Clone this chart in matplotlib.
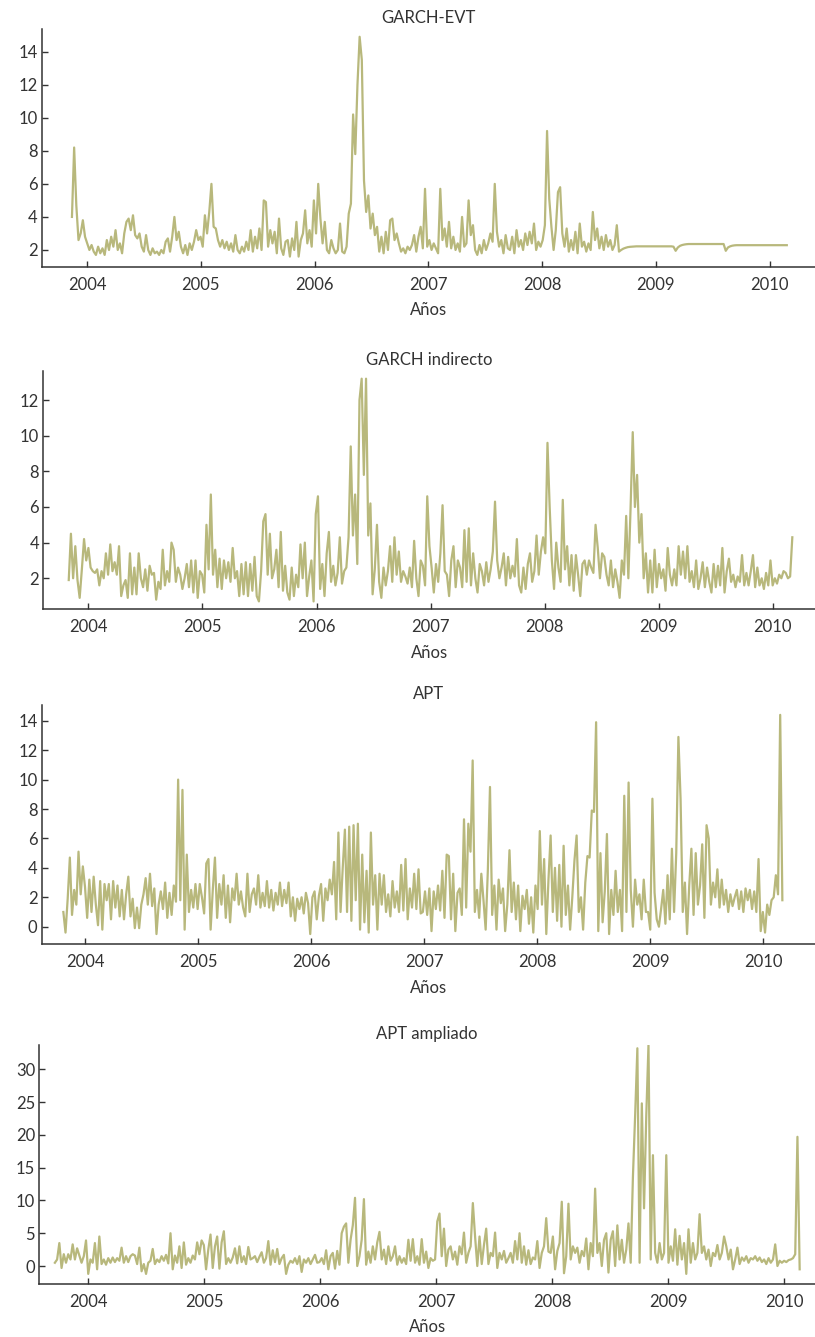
import matplotlib.pyplot as plt
import numpy as np

plt.rcParams['font.family'] = ['Lato', 'DejaVu Sans']
plt.rcParams.update({'font.size': 12})

LINE = '#b8b87c'
INK = '#333333'

# weekly values, each list starts where the year starts
# (the *_2003 lists hold the weeks before 1 Jan 2004)

# GARCH-EVT
evt_2003 = [4.0, 8.2, 4.7, 2.6, 3.0, 3.8, 2.8]
evt_2004 = [2.4, 2.0, 2.3, 1.9, 1.7, 2.2, 1.8, 2.1, 1.7, 2.6,
            2.0, 2.8, 2.2, 3.2, 2.0, 2.4, 1.8, 3.0, 3.7, 3.9,
            3.2, 4.1, 2.9, 2.7, 3.0, 2.2, 1.9, 2.9, 2.0, 1.7,
            2.1, 1.8, 1.9, 1.7, 2.0, 1.8, 2.5, 2.7, 1.9, 2.8,
            4.0, 2.6, 3.1, 2.2, 1.8, 2.3, 1.7, 2.4, 2.0, 2.5, 3.2, 2.6]
evt_2005 = [2.8, 2.2, 4.1, 3.0, 4.3, 6.0, 3.4, 3.3, 2.6, 2.2,
            2.6, 2.1, 2.5, 2.0, 2.4, 1.9, 2.9, 2.0, 1.8, 2.2,
            1.9, 2.5, 2.0, 3.2, 1.9, 2.8, 2.1, 3.3, 2.0, 5.0,
            4.9, 2.2, 3.2, 2.4, 3.1, 1.8, 3.9, 2.1, 1.7, 2.5,
            2.6, 1.6, 2.7, 2.0, 3.7, 1.6, 2.6, 3.0, 4.4, 2.4, 3.2, 2.2]
evt_2006 = [5.0, 3.0, 6.0, 3.9, 2.4, 3.7, 2.0, 1.8, 2.6, 2.1,
            1.8, 2.0, 3.6, 1.9, 1.8, 2.2, 4.2, 4.8, 10.2, 7.8,
            12.0, 14.9, 13.5, 6.2, 4.3, 5.3, 3.3, 4.2, 2.9, 3.4,
            1.9, 2.8, 1.8, 3.1, 2.0, 3.8, 3.9, 2.6, 3.0, 2.4,
            1.9, 2.1, 1.8, 2.2, 2.0, 2.3, 2.9, 1.9, 2.8, 3.4, 2.1, 5.7]
evt_2007 = [2.2, 2.6, 2.0, 2.4, 2.1, 1.8, 5.7, 2.6, 3.3, 2.2,
            3.7, 2.1, 2.8, 2.0, 2.4, 1.9, 4.0, 2.2, 2.4, 5.0,
            2.9, 3.5, 2.0, 1.7, 2.3, 1.8, 2.6, 2.0, 2.4, 3.0,
            2.5, 6.0, 3.1, 2.2, 2.6, 1.8, 2.9, 2.1, 2.0, 2.8,
            1.8, 3.2, 2.2, 2.6, 2.0, 3.0, 2.3, 3.1, 2.4, 3.6, 2.0, 2.5]
evt_2008 = [2.2, 2.6, 3.5, 9.2, 5.1, 3.4, 2.0, 3.2, 5.5, 5.8,
            3.0, 2.2, 3.3, 1.9, 2.6, 2.0, 3.1, 1.8, 3.6, 2.2,
            2.5, 1.9, 2.4, 2.0, 4.3, 2.6, 3.3, 2.1, 2.8, 2.0,
            2.9, 2.2, 2.6, 2.0, 2.3, 3.5, 1.9,
            2.0, 2.08, 2.13, 2.17, 2.19, 2.2, 2.21, 2.22, 2.22,
            2.22, 2.22, 2.22, 2.22, 2.22, 2.22]
evt_2009 = [2.22, 2.22, 2.22, 2.22, 2.22, 2.22, 2.22, 2.22, 2.22, 2.2,
            1.95, 2.15, 2.25, 2.3, 2.33, 2.35, 2.36, 2.36, 2.36, 2.36,
            2.36, 2.36, 2.36, 2.36, 2.36, 2.36, 2.36, 2.36, 2.36, 2.36,
            2.36, 2.36, 2.36, 1.95, 2.15, 2.22, 2.26, 2.28, 2.29, 2.29,
            2.29, 2.29, 2.29, 2.29, 2.29, 2.29, 2.29, 2.29, 2.29, 2.29, 2.29, 2.29]
evt_2010 = [2.29, 2.29, 2.29, 2.29, 2.29, 2.29, 2.29, 2.29, 2.29, 2.29]

# GARCH indirecto
ind_2003 = [1.9, 4.5, 2.0, 3.8, 1.9, 0.9, 2.5, 4.2, 3.0]
ind_2004 = [3.7, 2.6, 2.4, 2.3, 2.5, 1.6, 2.4, 2.0, 3.4, 2.2,
            3.9, 2.4, 2.9, 2.2, 3.8, 1.0, 1.6, 1.9, 0.9, 3.4,
            1.1, 2.6, 1.1, 3.4, 2.0, 1.5, 2.5, 1.3, 2.7, 2.2,
            2.3, 0.8, 1.8, 1.4, 3.6, 1.6, 2.4, 1.8, 4.0, 3.6,
            1.8, 2.6, 2.2, 1.4, 2.0, 2.8, 1.5, 3.0, 1.2, 3.0, 0.9, 2.4]
ind_2005 = [2.2, 1.2, 5.0, 2.5, 6.7, 2.2, 3.6, 1.5, 3.1, 1.4,
            3.0, 2.0, 2.9, 1.8, 3.7, 2.0, 2.4, 1.0, 2.8, 1.1,
            2.9, 1.0, 2.8, 1.3, 3.2, 1.0, 0.7, 2.4, 5.2, 5.6,
            2.2, 4.5, 2.0, 2.5, 3.6, 1.5, 4.6, 1.3, 2.7, 1.2,
            0.8, 2.6, 1.0, 2.2, 1.5, 3.9, 2.0, 4.0, 1.0, 2.1, 3.0, 0.7]
ind_2006 = [5.6, 6.6, 1.4, 2.8, 1.0, 3.4, 4.6, 1.8, 2.7, 1.6,
            2.3, 4.3, 1.7, 2.4, 2.6, 4.3, 9.4, 4.4, 6.7, 2.8,
            12.0, 13.2, 7.8, 13.2, 4.4, 6.2, 1.1, 2.5, 5.0, 1.8,
            0.9, 2.6, 1.6, 2.4, 3.8, 1.8, 4.3, 2.2, 3.5, 1.8,
            2.4, 2.1, 1.7, 2.6, 1.5, 4.1, 2.0, 1.0, 3.0, 2.7, 1.6, 6.6]
ind_2007 = [3.8, 2.6, 1.2, 2.8, 1.8, 3.4, 6.1, 2.4, 2.2, 1.0,
            3.0, 3.8, 1.5, 3.0, 2.6, 1.5, 4.7, 1.8, 4.8, 1.6,
            3.4, 2.0, 1.2, 2.8, 2.4, 1.6, 2.9, 1.8, 2.5, 3.5,
            6.3, 3.0, 2.0, 2.6, 3.4, 1.6, 3.2, 2.0, 2.7, 2.1,
            4.2, 1.6, 1.2, 2.6, 1.4, 2.8, 3.4, 1.8, 2.4, 4.4, 2.2, 3.5]
ind_2008 = [4.3, 3.4, 9.6, 6.0, 3.0, 1.4, 4.0, 2.6, 1.8, 6.4,
            2.5, 3.8, 1.6, 3.3, 1.3, 3.3, 2.2, 1.0, 2.8, 3.0,
            2.2, 3.0, 2.6, 2.3, 5.0, 3.7, 2.0, 3.4, 3.2, 2.2,
            1.6, 3.0, 1.5, 2.5, 1.8, 0.9, 3.0, 2.2, 5.5, 2.0,
            5.9, 10.2, 6.0, 7.8, 4.0, 5.6, 2.0, 3.4, 1.2, 3.0, 1.2, 3.6]
ind_2009 = [1.5, 2.8, 2.0, 2.5, 1.3, 3.7, 2.2, 1.6, 2.5, 1.6,
            3.8, 2.2, 3.5, 2.0, 3.8, 1.8, 2.4, 1.5, 3.0, 1.4,
            2.0, 2.9, 1.5, 2.6, 1.8, 1.2, 2.8, 1.5, 2.7, 1.6,
            3.7, 1.2, 2.4, 3.1, 1.8, 2.2, 1.5, 2.1, 1.8, 3.3,
            1.6, 2.3, 1.6, 2.4, 3.3, 1.5, 2.6, 1.6, 2.0, 1.4, 2.3, 1.6]
ind_2010 = [3.0, 1.6, 2.0, 1.7, 2.2, 2.0, 2.4, 2.3, 2.0, 2.1, 4.3]

# APT
apt_2003 = [1.0, -0.4, 1.9, 4.7, 0.8, 2.5, 1.5, 5.1, 2.2, 4.1]
apt_2004 = [2.7, 0.6, 3.2, 1.0, 3.4, 1.5, 0.1, 3.1, -0.2, 2.9,
            1.8, 2.9, 0.5, 3.1, 1.3, 2.8, 0.7, 2.5, 0.5, 2.2,
            3.4, 0.7, 1.9, -0.1, 1.3, -0.1, 1.5, 2.2, 3.3, 1.5,
            3.6, 1.4, 2.6, -0.5, 1.5, 2.4, 1.2, 3.0, 0.6, 2.3,
            0.8, 2.8, 1.7, 10.0, 1.8, 9.3, -0.2, 4.9, 1.0, 2.5, 1.3, 2.9]
apt_2005 = [1.2, 2.9, 2.0, 0.9, 4.3, 4.6, -0.2, 2.5, 4.7, 0.6,
            2.9, 1.5, 3.5, 0.6, 2.8, 0.3, 2.6, 1.8, 3.6, 1.5,
            2.4, 1.3, 0.7, 3.6, 1.0, 2.2, 2.6, 1.5, 3.5, 1.3,
            2.3, 1.4, 3.1, 1.3, 2.5, 1.1, 2.3, 1.5, 3.0, 1.4,
            2.5, 1.6, 3.0, 0.7, 2.0, 0.4, 1.9, 1.2, 2.0, 0.9, 2.3, 1.6]
apt_2006 = [-0.5, 2.0, 2.4, 0.5, 2.1, 2.9, 0.4, 2.6, 1.8, 3.2,
            2.2, 4.4, 0.5, 6.4, 1.0, 4.0, 6.6, 1.0, 6.8, 0.4,
            6.9, 1.8, 7.0, -0.2, 4.9, 0.3, 3.8, -0.4, 6.4, 1.5,
            3.5, -0.2, 3.6, 1.5, 3.5, 1.0, 2.2, 0.7, 3.1, 1.3,
            2.4, 1.0, 4.2, 1.1, 4.6, 0.5, 2.6, 1.3, 3.6, 1.2, 3.9, 0.9]
apt_2007 = [1.0, 2.4, 0.8, 2.6, -0.3, 2.4, 1.2, 2.8, 1.1, 3.8,
            0.6, 4.9, 4.8, 0.5, 3.6, -0.3, 2.3, 2.6, 0.8, 7.3,
            1.3, 7.0, 5.1, 11.3, 1.0, 2.5, 0.6, 3.6, 1.8, -0.2,
            3.8, 9.5, 0.8, 2.8, -0.2, 3.2, 1.6, 2.6, -0.3, 1.5,
            5.2, 1.0, 3.0, 0.5, 2.8, -0.3, 2.1, 1.2, 2.5, 0.2, 2.0, -0.4]
apt_2008 = [2.8, 1.2, 6.5, 1.5, 4.6, -0.5, 3.2, 6.2, 1.0, 4.0,
            0.4, 4.2, 0.0, 5.5, 0.8, 2.8, -0.2, 2.0, 4.5, 6.2,
            1.0, 2.0, -0.2, 3.0, 4.8, 4.7, 7.9, 7.8, 13.9, -0.3,
            5.0, 0.3, 2.4, 6.3, -0.5, 2.5, 0.8, 3.8, 1.0, 2.5,
            -0.3, 8.9, 1.0, 9.8, 2.5, 0.0, 3.2, 1.5, 2.2, 0.5, 3.2, 1.0]
apt_2009 = [1.0, -0.2, 8.7, 2.3, 0.5, 0.0, 1.2, 2.5, 0.2, 3.5,
            0.5, 5.3, 1.0, 5.0, 12.9, 8.7, 1.0, 3.0, -0.5, 2.8,
            5.3, 0.8, 5.0, 1.5, 2.8, 5.6, 0.6, 6.9, 6.0, 1.5,
            3.0, 2.0, 3.9, 1.3, 3.2, 1.5, 2.5, 1.0, 2.2, 1.4,
            2.0, 2.5, 1.2, 2.4, 1.0, 2.6, 1.8, 2.5, 1.2, 2.4, 1.0, 4.6]
apt_2010 = [-0.3, 1.0, -0.4, 1.5, 0.8, 1.8, 2.0, 3.5, 2.2, 14.4, 1.8]

# APT ampliado
ext_2003 = [0.5, 1.0, 3.5, -0.3, 1.8, 0.5, 1.8, 1.0, 3.3, 1.0, 2.7, 1.6, 0.5, 1.5, 3.9]
ext_2004 = [-1.2, 1.0, 0.5, 3.5, -0.5, 4.5, 0.3, 1.0, 0.2, 1.2,
            0.5, 1.3, 0.6, 1.2, 0.8, 2.8, 0.5, 1.5, 0.6, 1.5,
            1.8, 1.6, 0.3, 2.8, -0.8, 0.3, -1.2, 0.5, 0.8, 2.6,
            0.3, 1.0, 0.6, 1.5, 0.8, 1.7, 0.4, 5.0, -0.5, 1.6,
            0.5, 3.0, -0.3, 3.6, 0.2, 1.2, 0.5, 1.6, 1.0, 3.6, 1.8, 3.9]
ext_2005 = [3.2, -0.5, 2.5, 4.8, -0.3, 3.0, 4.5, -0.4, 3.6, 5.3,
            0.3, 1.2, 0.5, 1.3, 2.7, 0.4, 3.0, 0.6, 1.5, 0.3,
            2.9, 1.0, 1.2, 1.5, 0.6, 1.4, 2.1, 0.5, 1.2, 3.8,
            0.2, 2.4, 0.6, 2.6, 0.3, 1.2, 1.7, -1.2, 0.2, 0.8,
            0.5, 1.2, 0.3, 1.5, -0.9, 1.0, 0.5, 1.2, 0.3, 1.0, 1.7, 0.5]
ext_2006 = [0.6, 1.2, 0.3, 2.4, -0.5, 1.5, 2.0, -0.4, 2.3, 0.2,
            5.0, 6.0, 6.5, 0.5, 4.0, 6.2, 10.4, 0.0, 1.5, 4.0,
            10.2, 0.2, 2.2, 0.5, 3.0, 1.0, 3.6, 5.2, 1.0, 2.5,
            0.3, 3.0, 0.8, 1.5, 3.0, 0.2, 1.5, 0.5, 1.2, 0.3,
            4.0, 0.8, 4.1, 0.5, 1.5, 0.2, 4.1, 0.5, 2.2, -0.3, 1.2, 0.8]
ext_2007 = [1.0, 6.8, 8.0, 1.5, 5.7, 0.0, 2.5, 3.0, 1.0, 2.2,
            0.2, 3.0, 1.8, 5.1, 0.5, 2.0, 3.0, 9.6, 4.5, 0.0,
            4.5, 0.3, 3.2, 5.7, 0.3, 2.0, 1.5, 5.1, -0.3, 2.0,
            1.0, 2.3, 0.5, 1.2, 2.0, 0.5, 3.8, 1.0, 5.0, 0.5,
            3.0, 0.2, 2.4, 0.3, 1.3, 1.0, 3.8, -0.3, 2.0, 3.0, 7.3, 2.2]
ext_2008 = [2.0, 4.5, -0.5, 2.3, 3.5, 9.8, -1.1, 1.5, 9.5, 1.0,
            3.0, 2.0, 2.8, 0.5, 2.3, 1.5, 4.2, -0.5, 3.5, 1.5,
            11.8, 2.0, 3.5, 0.0, 4.0, 5.0, -1.0, 4.0, 5.3, 0.0,
            6.2, 1.0, 4.0, 0.5, 2.5, 6.5, 0.5, 13.6, 23.0, 33.2,
            0.5, 24.8, 8.8, 22.9, 33.7, 1.0, 16.9, 2.0, 0.5, 3.5, 1.0, 2.0]
ext_2009 = [16.9, 0.5, 3.0, 0.8, 5.6, 0.2, 4.6, 1.0, 3.5, -1.2,
            5.6, 0.5, 3.5, 1.0, 2.0, 7.9, 2.0, 3.0, 1.0, 2.5,
            0.0, 2.0, 1.5, 3.2, 1.0, 2.0, 4.5, 3.0, 1.0, 2.5,
            -0.5, 1.0, 2.8, 0.3, 1.3, 0.8, 1.5, 0.5, 1.2, 1.0,
            1.5, 0.8, 1.3, 0.6, 1.0, 0.3, 1.2, 0.5, 1.0, 3.3, 0.0, 0.8]
ext_2010 = [0.5, 0.8, 0.6, 0.9, 1.0, 1.2, 1.8, 19.7, -0.5]

titles = ['GARCH-EVT', 'GARCH indirecto', 'APT', 'APT ampliado']
series = [
    [evt_2003, evt_2004, evt_2005, evt_2006, evt_2007, evt_2008, evt_2009, evt_2010],
    [ind_2003, ind_2004, ind_2005, ind_2006, ind_2007, ind_2008, ind_2009, ind_2010],
    [apt_2003, apt_2004, apt_2005, apt_2006, apt_2007, apt_2008, apt_2009, apt_2010],
    [ext_2003, ext_2004, ext_2005, ext_2006, ext_2007, ext_2008, ext_2009, ext_2010],
]
years = [2004, 2005, 2006, 2007, 2008, 2009, 2010]

# axes boxes in figure fractions, and limits, per panel
boxes = [[0.0512, 0.8003, 0.9488, 0.1780],
         [0.0532, 0.5443, 0.9468, 0.1782],
         [0.0512, 0.2939, 0.9488, 0.1788],
         [0.0482, 0.0396, 0.9518, 0.1788]]
xlims = [(2003.60, 2010.40), (2003.605, 2010.37), (2003.617, 2010.46), (2003.578, 2010.265)]
ylims = [(0.97, 15.37), (0.26, 13.63), (-1.18, 15.07), (-2.75, 33.7)]
yticks = [[2, 4, 6, 8, 10, 12, 14], [2, 4, 6, 8, 10, 12],
          [0, 2, 4, 6, 8, 10, 12, 14], [0, 5, 10, 15, 20, 25, 30]]

fig = plt.figure(figsize=(8.15, 13.37), dpi=100)

for i in range(4):
    parts = series[i]
    vals = np.concatenate(parts)
    npre = len(parts[0])
    # weekly observations, decimal years
    x = 2004 + (np.arange(len(vals)) - npre) * 7 / 365.25

    ax = fig.add_axes(boxes[i])
    ax.plot(x, vals, color=LINE, lw=1.6)
    ax.set_xlim(*xlims[i])
    ax.set_ylim(*ylims[i])
    ax.set_xticks(years)
    ax.set_xticklabels([str(y) for y in years])
    ax.set_yticks(yticks[i])
    ax.set_title(titles[i], color=INK, fontsize=12, pad=4)
    ax.set_xlabel('Años', color=INK, fontsize=12, labelpad=7)
    for s in ['top', 'right']:
        ax.spines[s].set_visible(False)
    for s in ['left', 'bottom']:
        ax.spines[s].set_color(INK)
        ax.spines[s].set_linewidth(1.1)
    ax.tick_params(axis='both', direction='in', length=4, width=1, color=INK,
                   labelcolor=INK, labelsize=12)
    ax.tick_params(axis='x', pad=7)
    ax.tick_params(axis='y', pad=3)

fig.savefig('out.png', dpi=100)
